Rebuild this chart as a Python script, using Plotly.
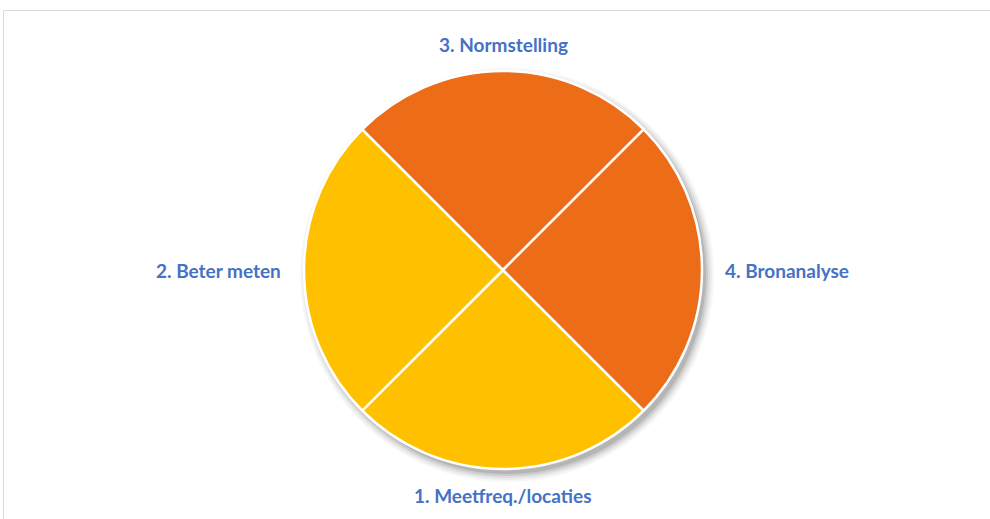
import math
import plotly.graph_objects as go

# ---- data ----
categories = ["1. Meetfreq./locaties", "2. Beter meten", "3. Normstelling", "4. Bronanalyse"]
values = [1, 1, 1, 1]
slice_colors = ["#FFC000", "#FFC000", "#EC6C17", "#EC6C17"]

# ---- geometry (screen pixels; body margin removed by post_script) ----
OFF = 0
W, H = 990, 519
ML, MR, MT, MB = 10, 0, 50, 20
PW, PH = W - ML - MR, H - MT - MB
CX, CY, R = 503, 270, 199
ROTATION = 135


def xp(sx):
    return (sx - OFF - ML) / PW


def yp(sy):
    return (H - MB - (sy - OFF)) / PH


def dom(cx, cy, r):
    return dict(x=[xp(cx - r), xp(cx + r)], y=[yp(cy + r), yp(cy - r)])


fig = go.Figure()

# soft shadow (layered translucent discs)
for s, a in [(8, 0.03), (6, 0.045), (4, 0.06), (2, 0.08), (0, 0.11)]:
    fig.add_trace(go.Pie(
        values=[1], labels=["shadow"], domain=dom(CX + 4, CY + 5, R + s),
        marker=dict(colors=[f"rgba(0,0,0,{a})"], line=dict(width=0)),
        textinfo="none", hoverinfo="skip", sort=False, showlegend=False,
    ))

# main pie
fig.add_trace(go.Pie(
    labels=categories, values=values, domain=dom(CX, CY, R),
    sort=False, direction="clockwise", rotation=ROTATION,
    marker=dict(colors=slice_colors, line=dict(color="white", width=2.5)),
    textinfo="none", showlegend=False,
))

# labels placed outside at each slice's mid-angle
total = sum(values)
acc = 0
annotations = []
for lab, v in zip(categories, values):
    mid = ROTATION + (acc + v / 2) / total * 360  # clockwise from 12 o'clock
    acc += v
    ang = math.radians(mid)
    dx, dy = math.sin(ang), -math.cos(ang)
    if abs(dx) < 0.5:
        px, py = CX + 2 * dx, CY + 225 * dy
        xa = "center"
    else:
        px, py = CX + (R + 21) * dx, CY
        xa = "left" if dx > 0 else "right"
    annotations.append(dict(
        x=xp(px), y=yp(py), xref="paper", yref="paper", text=lab, showarrow=False,
        xanchor=xa, yanchor="middle",
        font=dict(family="Lato", size=19, color="#4472C4", weight="bold"),
    ))

fig.update_layout(
    width=W, height=H,
    margin=dict(l=ML, r=MR, t=MT, b=MB),
    paper_bgcolor="white", plot_bgcolor="white",
    showlegend=False,
    annotations=annotations,
    shapes=[dict(type="rect", xref="paper", yref="paper",
                 x0=xp(3.5), x1=xp(1005), y0=yp(540), y1=yp(10.5),
                 line=dict(color="#D9D9D9", width=1), fillcolor="rgba(0,0,0,0)",
                 layer="below")],
)

fig.write_html(
    "out.html",
    config={"displayModeBar": False},
    post_script="document.body.style.margin='0px';document.body.style.overflow='hidden';",
)
